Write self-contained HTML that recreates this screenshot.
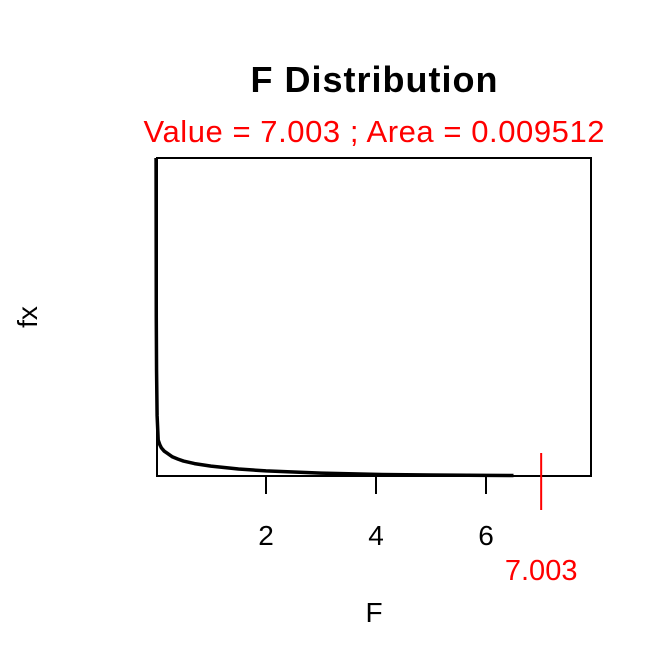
<!DOCTYPE html>
<html><head><meta charset="utf-8"><style>
body{margin:0;background:#fff}
svg{display:block;font-family:"Liberation Sans",Arial,sans-serif}
</style></head><body>
<svg id="chart" width="672" height="672">
<text x="374" y="92" font-size="36" font-weight="bold" text-anchor="middle" textLength="247">F Distribution</text>
<text x="374" y="142" font-size="31" fill="#ff0000" text-anchor="middle" textLength="461">Value = 7.003 ; Area = 0.009512</text>
<rect x="157" y="158" width="434" height="318" fill="none" stroke="#000" stroke-width="2"/>
<g id="xaxis"></g>
<path id="curve" fill="none" stroke="#000" stroke-width="3.5" stroke-linejoin="round"/>
<line id="marker" stroke="#ff0000" stroke-width="2"/>
<text id="markerLabel" font-size="29" fill="#ff0000" text-anchor="middle" y="580">7.003</text>
<text x="374" y="622" font-size="28" text-anchor="middle">F</text>
<text x="0" y="0" font-size="28" text-anchor="middle" transform="translate(37,317) rotate(-90)">fx</text>
</svg>
<script>
const xs=[0.001,0.005,0.01,0.02,0.04,0.07,0.1,0.15,0.2,0.3,0.4,0.5,0.7,1,1.5,2,3,4,5,6,6.5];
const fx=[10,5,3.33,1.9,1.13,0.98,0.88,0.78,0.72,0.6,0.53,0.47,0.39,0.31,0.22,0.16,0.09,0.05,0.03,0.02,0.015];
const xTicks=[2,4,6];
const markerValue=7.003;
const X=v=>156+v*55, Y=v=>476-v*31.8;
document.getElementById('curve').setAttribute('d',xs.map((x,i)=>(i?'L':'M')+X(x)+','+Y(fx[i])).join(''));
const g=document.getElementById('xaxis');
xTicks.forEach(t=>{
 const l=document.createElementNS('http://www.w3.org/2000/svg','line');
 
 
 l.setAttribute('x1',X(t));l.setAttribute('x2',X(t));l.setAttribute('y1',476);l.setAttribute('y2',494);l.setAttribute('stroke','#000');l.setAttribute('stroke-width','2');
 g.appendChild(l);
 const s=document.createElementNS('http://www.w3.org/2000/svg','text');
 
 
 s.setAttribute('x',X(t));s.setAttribute('y',545);s.setAttribute('font-size','28');s.setAttribute('text-anchor','middle');s.textContent=t;
 g.appendChild(s);
});
const m=document.getElementById('marker');
m.setAttribute('x1',X(markerValue));m.setAttribute('x2',X(markerValue));m.setAttribute('y1',453);m.setAttribute('y2',510);
document.getElementById('markerLabel').setAttribute('x',X(markerValue));
</script>
</body></html>
